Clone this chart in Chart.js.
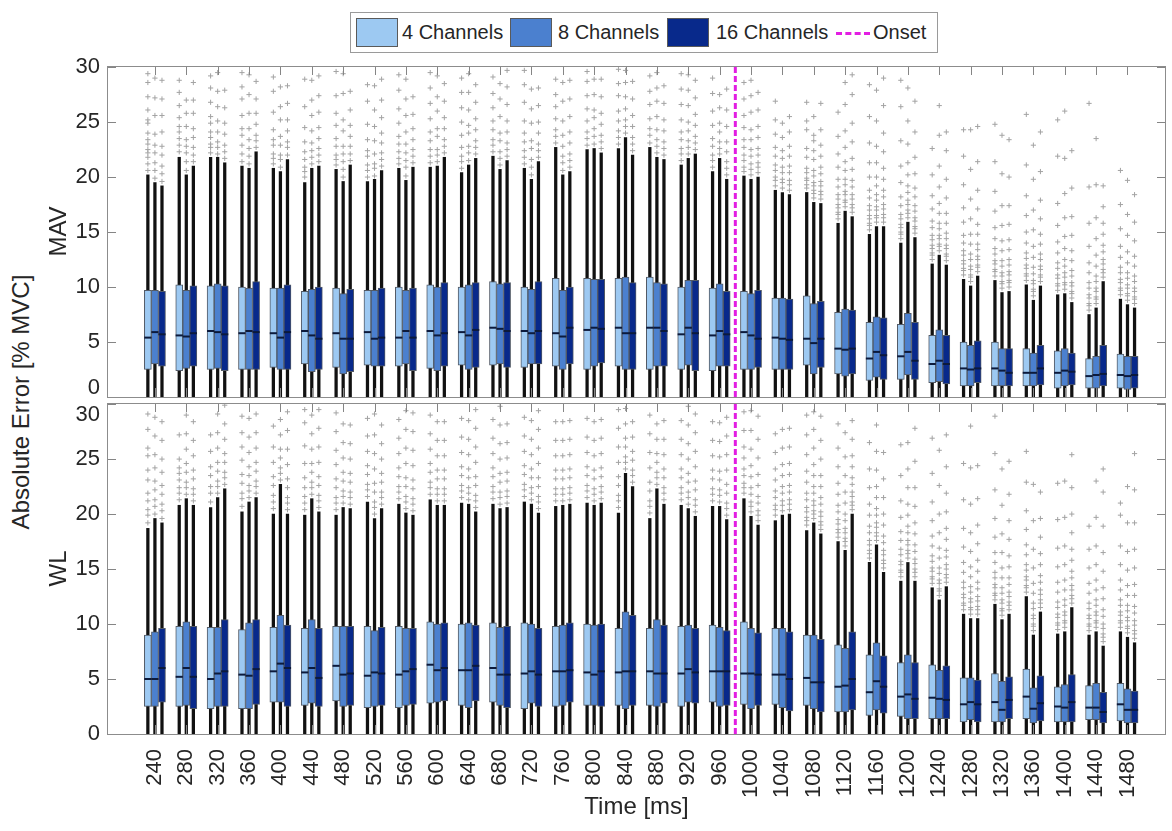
<!DOCTYPE html>
<html>
<head>
<meta charset="utf-8">
<script src="https://cdn.jsdelivr.net/npm/chart.js@4/dist/chart.umd.min.js"></script>
<style>
  body { margin: 0; background: #fff; width: 1172px; height: 831px; position: relative; overflow: hidden;
         font-family: 'Liberation Sans', Arial, Helvetica, sans-serif; color: #262626; }
  canvas { position: absolute; }
  #legend { position: absolute; left: 350px; top: 12px; width: 586px; height: 39px; border: 1px solid #9a9a9a;
            background: #fff; z-index: 5; }
  #legend .sw { position: absolute; top: 5px; width: 42px; height: 29px; border: 1px solid #5a5a5a; box-sizing: border-box; }
  #legend .tx { position: absolute; top: 8px; font-size: 20px; line-height: 23px; white-space: nowrap; }
  #legend .dash { position: absolute; top: 19px; width: 34px; height: 0; border-top: 3px dashed #e21ee2; }
  #ylab { position: absolute; left: 21px; top: 402px; transform: translate(-50%, -50%) rotate(-90deg);
          font-size: 24px; white-space: nowrap; }
</style>
</head>
<body>
<canvas id="mav" width="1131" height="375" style="left:41px; top:44px"></canvas>
<canvas id="wl" width="1131" height="450" style="left:41px; top:381px"></canvas>
<div id="ylab">Absolute Error [% MVC]</div>
<div id="legend"></div>
<script>
// Zeitpunkte (ms) und Onset
const times = [240, 280, 320, 360, 400, 440, 480, 520, 560, 600, 640, 680, 720, 760, 800, 840,
               880, 920, 960, 1000, 1040, 1080, 1120, 1160, 1200, 1240, 1280, 1320, 1360, 1400, 1440, 1480];
const onsetTime = 980;
const channels = ['4 Channels', '8 Channels', '16 Channels'];
const yTicks = [0, 5, 10, 15, 20, 25, 30];

// ---------- MAV ----------
const mav4Q1  = [2.5,2.4,2.5,2.5,2.7,3.0,2.7,2.9,2.8,2.6,2.9,2.9,2.7,2.8,2.5,2.8,2.5,2.5,2.4,2.5,2.5,2.9,2.1,1.5,1.6,1.3,1.0,1.0,1.0,0.8,0.8,0.8];
const mav4Med = [5.4,5.6,6.0,5.8,5.8,6.0,5.8,5.9,5.4,6.0,5.9,6.3,6.0,5.8,6.1,6.3,6.3,5.7,5.6,5.9,5.4,5.3,4.4,3.5,3.7,3.0,2.6,2.6,2.2,2.2,1.9,2.0];
const mav4Q3  = [9.7,10.2,10.1,10.0,9.9,9.6,9.9,9.7,10.0,10.2,10.0,10.5,10.0,10.8,10.8,10.8,10.9,10.0,9.9,9.6,9.0,9.2,7.7,6.8,6.6,5.6,5.0,5.0,4.4,4.2,3.5,3.9];
const mav4Hi  = [20.2,21.8,21.8,21.0,20.8,19.5,20.7,19.6,20.8,20.9,20.4,21.9,20.8,22.7,22.5,22.6,22.7,21.1,20.5,20.1,18.8,18.6,15.8,14.8,14.0,12.1,10.7,10.6,10.2,9.3,7.5,8.9];
const mav4Out = [
  [20.6,21.2,21.8,22.2,22.5,23.0,23.4,24.0,24.9,25.2,26.1,27.3,28.6,29.4],
  [22.3,22.9,23.5,24.1,24.6,25.4,26.5,27.7,28.8],
  [22.2,22.7,23.0,23.6,24.1,24.9,25.5,26.8,28.1,29.2],
  [21.4,22.1,22.9,23.8,24.4,25.6,27.1,28.2,29.5],
  [21.2,21.7,22.1,22.9,23.4,24.3,25.9,27.8,29.1],
  [20.0,20.5,20.9,21.6,22.3,23.2,24.5,26.4,28.9],
  [21.1,21.6,22.0,22.8,23.5,24.7,25.8,27.4,29.6],
  [20.0,20.6,21.1,21.9,22.4,23.4,24.8,26.9,28.4],
  [21.2,21.7,22.3,23.0,23.7,24.9,26.2,27.9,29.3],
  [21.3,21.9,22.5,23.3,24.1,25.3,26.7,28.1,29.5],
  [20.8,21.4,21.9,22.7,23.8,25.0,26.3,27.7,29.0],
  [22.3,22.9,23.4,24.3,25.1,26.3,27.6,29.1],
  [21.2,21.8,22.4,23.2,24.0,25.1,26.8,28.4,29.7],
  [23.1,23.7,24.3,25.3,26.4,27.5,28.9],
  [22.9,23.5,24.1,25.1,26.2,27.4,28.7,29.6],
  [23.0,23.6,24.2,25.1,26.0,27.4,28.5,29.8],
  [23.1,23.8,24.4,25.3,26.6,27.8,29.2],
  [21.5,22.1,22.6,23.4,24.1,25.2,26.6,28.0,29.4],
  [20.9,21.5,22.0,22.8,23.5,24.7,26.0,27.6,29.0],
  [20.5,20.9,21.5,22.0,22.7,23.4,24.5,25.6,27.1,28.6],
  [19.2,19.7,20.0,20.6,21.1,21.9,22.7,23.9,25.2,26.9],
  [19.0,19.3,19.7,19.9,20.4,20.8,21.8,22.6,24.3,25.1,26.8],
  [16.2,16.6,16.8,17.2,17.5,18.0,18.4,19.1,19.8,20.9,22.1,23.7,25.9],
  [15.2,15.6,15.8,16.2,16.5,17.0,17.4,18.1,18.8,20.0,21.3,23.1,25.5,28.4],
  [14.4,14.8,15.0,15.4,15.7,16.2,16.6,17.4,18.2,19.5,21.0,23.3,26.4,28.8],
  [12.5,12.9,13.1,13.5,13.8,14.3,14.7,15.4,16.0,17.1,18.3,20.2,22.6],
  [11.1,11.5,11.7,12.1,12.4,12.9,13.3,14.0,14.7,15.9,17.2,19.3,21.9,24.3],
  [11.0,11.4,11.6,12.1,12.4,13.0,13.5,14.4,15.4,16.9,18.7,21.4,24.8],
  [10.6,11.0,11.2,11.7,12.0,12.6,13.1,14.0,15.0,16.5,18.3,21.1,25.7],
  [9.7,10.1,10.3,10.8,11.1,11.7,12.2,13.1,14.1,15.6,17.6,21.9,25.2],
  [7.9,8.3,8.5,9.0,9.3,9.9,10.4,11.3,12.2,13.7,15.8,19.1,26.7],
  [9.3,9.7,9.9,10.4,10.7,11.3,11.8,12.7,13.7,15.3,17.5,20.6]
];

const mav8Q1  = [3.0,2.6,2.6,2.5,2.5,2.3,2.1,2.8,3.0,2.4,2.5,3.0,3.0,2.5,2.8,2.5,2.8,2.9,2.8,2.5,2.5,2.1,1.9,1.8,2.0,1.4,1.0,1.0,1.0,1.0,0.8,0.7];
const mav8Med = [5.9,5.5,5.9,6.0,5.4,5.6,5.3,5.3,6.0,5.6,5.6,6.2,5.8,5.5,6.3,5.8,6.3,6.3,6.0,5.6,5.3,4.9,4.3,4.1,4.1,3.3,2.5,2.4,2.2,2.4,2.0,1.9];
const mav8Q3  = [9.7,9.7,10.3,9.9,9.9,9.8,9.4,9.7,9.7,10.0,10.2,10.3,9.8,9.7,10.7,10.9,10.4,10.6,10.3,9.4,9.0,8.5,8.0,7.3,7.6,6.1,4.7,4.4,4.0,4.4,3.7,3.7];
const mav8Hi  = [19.5,20.2,21.8,20.8,20.5,20.8,19.6,19.8,19.7,21.0,21.1,20.7,19.8,20.2,22.6,23.6,21.8,21.7,21.7,19.8,18.6,17.7,16.9,15.5,15.9,12.9,10.1,9.5,8.8,9.4,8.1,8.4];
const mav8Out = [
  [19.9,20.6,21.3,22.2,22.9,23.9,25.6,27.2,29.0],
  [20.6,21.4,22.2,22.8,23.4,24.6,25.8,27.0],
  [22.1,22.7,23.2,24.1,25.1,26.4,27.8,29.5],
  [21.2,21.9,22.6,23.4,24.4,25.8,27.5,29.3],
  [20.9,21.6,22.0,22.9,23.7,25.2,26.4,28.2],
  [21.2,21.8,22.4,23.1,24.2,25.6,27.0,28.8],
  [20.0,20.7,21.4,22.1,22.8,24.2,25.2,27.6,29.4],
  [20.1,20.8,21.2,22.1,23.3,24.6,26.1,28.3],
  [20.1,20.9,21.5,22.2,23.0,24.1,25.6,27.1,28.9],
  [21.4,22.0,22.5,23.7,24.4,26.0,27.3,29.2],
  [21.5,22.2,22.8,24.0,24.7,26.1,27.7,29.4],
  [21.1,21.7,22.3,23.3,24.0,25.5,27.1,28.5],
  [20.2,20.9,21.6,22.6,23.3,24.9,26.2,28.0],
  [20.6,21.3,21.9,22.8,23.8,25.1,26.9,28.6],
  [23.0,23.7,24.4,25.4,26.1,27.5,28.9],
  [24.0,24.6,25.2,26.2,27.3,28.6,29.7],
  [22.2,22.8,23.4,24.3,25.5,26.9,28.1,29.5],
  [22.1,22.7,23.3,24.2,25.0,26.5,27.9,29.3],
  [22.1,22.6,23.2,24.1,24.9,26.3,27.5],
  [20.2,20.7,21.2,21.9,22.5,23.4,24.3,25.9,27.4,28.8],
  [19.0,19.5,19.8,20.4,20.9,21.7,22.4,23.6,24.9],
  [18.1,18.5,18.8,19.2,19.5,20.1,20.6,21.6,22.4,23.3,23.8,25.5],
  [17.3,17.7,17.9,18.4,18.7,19.3,19.8,20.6,21.4,22.7,24.2,26.6,28.6],
  [15.9,16.3,16.5,17.0,17.3,17.9,18.4,19.2,20.0,21.3,22.8,25.1,27.9],
  [16.3,16.7,17.0,17.5,17.9,18.6,19.2,20.2,21.3,23.0,25.1,28.1],
  [13.3,13.7,13.9,14.4,14.7,15.3,15.8,16.7,17.6,19.1,21.0,23.8,26.5],
  [10.5,10.9,11.1,11.6,11.9,12.5,13.0,13.9,14.8,16.2,18.0,20.7,24.3],
  [9.9,10.3,10.5,11.0,11.3,11.9,12.4,13.3,14.2,15.6,17.4,20.3,23.8],
  [9.2,9.6,9.8,10.3,10.6,11.2,11.8,12.7,13.7,15.2,17.0,19.8,22.9],
  [9.8,10.2,10.4,10.9,11.3,11.9,12.5,13.5,14.6,16.3,18.5,21.7,26.0],
  [8.5,8.9,9.1,9.6,9.9,10.5,11.0,11.9,12.9,14.4,16.3,19.3,23.5],
  [8.8,9.2,9.4,9.9,10.2,10.8,11.3,12.2,13.2,14.7,16.6,19.7]
];

const mav16Q1  = [2.8,2.8,2.4,2.5,2.5,2.5,2.3,2.8,2.4,2.8,2.7,2.7,3.0,3.0,3.1,2.5,2.8,2.4,2.8,2.7,2.5,2.7,2.1,1.6,1.6,1.2,1.3,1.0,1.1,1.1,1.0,0.8];
const mav16Med = [5.7,5.8,5.7,5.9,5.9,5.3,5.3,5.4,5.4,5.8,6.1,6.0,6.0,6.3,6.2,5.8,6.0,5.8,5.7,5.3,5.2,5.3,4.4,3.8,3.3,3.0,2.6,2.2,2.6,2.3,2.1,2.0];
const mav16Q3  = [9.6,10.1,10.1,10.5,10.2,10.0,9.8,9.9,9.9,10.4,10.4,10.4,10.5,10.0,10.7,10.4,10.3,10.6,9.6,9.7,8.9,8.7,7.9,7.2,6.8,5.6,5.1,4.4,4.7,4.0,4.7,3.7];
const mav16Hi  = [19.2,21.0,21.3,22.3,21.6,21.0,21.1,20.6,20.9,21.8,21.7,21.5,21.4,20.5,22.2,22.0,21.6,22.1,19.8,20.0,18.4,17.6,16.4,15.5,14.5,12.0,11.0,9.6,10.1,8.6,10.5,8.1];
const mav16Out = [
  [19.6,20.3,21.0,22.0,22.8,24.1,25.6,27.1,28.8],
  [21.4,22.0,22.7,23.6,24.4,25.8,27.0,28.6],
  [21.7,22.3,22.9,23.9,24.9,26.3,27.9],
  [22.7,23.3,23.8,24.8,25.8,27.1,28.7],
  [22.0,22.7,23.2,24.2,25.2,26.7,28.3],
  [21.4,22.0,22.6,23.5,24.5,25.9,27.4,29.2],
  [21.5,22.1,22.8,23.7,24.7,26.1,27.8],
  [21.0,21.6,22.2,23.1,24.0,25.4,27.0,28.9],
  [21.3,21.9,22.5,23.4,24.4,25.7,27.3],
  [22.2,22.8,23.4,24.4,25.4,26.9,28.5],
  [22.1,22.7,23.3,24.3,25.3,26.8,28.4],
  [21.9,22.5,23.1,24.1,25.1,26.6,28.2,29.7],
  [21.8,22.4,23.0,24.0,25.0,26.5,28.1],
  [20.9,21.5,22.1,23.1,24.1,25.5,27.1,28.8],
  [22.6,23.2,23.8,24.8,25.8,27.3,28.9],
  [22.4,23.0,23.6,24.6,25.6,27.1,28.7],
  [22.0,22.6,23.2,24.2,25.2,26.7,28.3],
  [22.5,23.1,23.7,24.7,25.7,27.2,28.8],
  [20.2,20.8,21.4,22.3,23.2,24.6,26.1,28.0],
  [20.4,20.9,21.3,22.0,22.6,23.6,24.6,26.1,27.7],
  [18.8,19.3,19.7,20.4,21.0,21.9,22.8,24.1,25.5],
  [18.0,18.4,18.7,19.2,19.6,20.3,20.9,21.9,22.9,24.3,26.7],
  [16.8,17.2,17.5,18.0,18.4,19.1,19.7,20.7,21.7,23.2,24.9,27.5,29.3],
  [15.9,16.3,16.6,17.1,17.5,18.2,18.8,19.8,20.8,22.3,24.0,26.5,29.0],
  [14.9,15.3,15.5,16.0,16.3,16.9,17.4,18.2,19.0,20.3,21.8,24.1,26.9],
  [12.4,12.8,13.0,13.5,13.8,14.4,14.9,15.8,16.7,18.1,19.8,22.4,24.1],
  [11.4,11.8,12.0,12.5,12.8,13.4,13.9,14.8,15.7,17.1,18.8,21.4,24.6],
  [10.0,10.4,10.6,11.1,11.4,12.0,12.5,13.4,14.3,15.7,17.4,20.0,23.4],
  [10.5,10.9,11.1,11.6,11.9,12.5,13.0,13.9,14.8,16.2,17.9,20.5,24.1],
  [9.0,9.4,9.6,10.1,10.4,11.0,11.5,12.4,13.3,14.7,16.4,19.0,22.4],
  [10.9,11.3,11.6,12.1,12.5,13.2,13.8,14.8,15.8,17.3,19.2],
  [8.5,8.9,9.1,9.6,9.9,10.5,11.0,11.9,12.8,14.2,15.9,18.4]
];

// ---------- WL ----------
const wl4Q1  = [2.5,2.5,2.3,2.3,2.9,2.6,3.0,2.4,2.4,2.8,2.6,2.9,2.3,2.5,2.6,2.6,2.6,2.5,2.9,2.7,2.7,2.6,2.0,1.7,1.6,1.4,1.1,1.1,1.4,1.1,1.3,1.2];
const wl4Med = [5.0,5.2,5.0,5.4,5.7,5.6,6.2,5.3,5.4,6.3,5.8,6.0,5.5,5.7,5.6,5.6,5.7,5.5,5.7,5.5,5.4,5.1,4.3,3.8,3.4,3.3,2.7,2.9,3.4,2.5,2.4,2.7];
const wl4Q3  = [9.0,9.8,9.7,9.5,9.7,9.6,9.8,9.8,9.8,10.2,10.0,10.1,10.1,9.8,10.0,9.6,9.6,9.8,9.9,10.2,9.6,9.0,8.1,7.2,6.5,6.3,5.1,5.5,5.9,4.3,4.4,4.6];
const wl4Hi  = [18.7,20.8,20.6,20.2,20.0,19.9,19.9,21.1,20.9,21.3,21.0,20.9,21.1,20.7,21.0,20.1,19.6,20.8,20.7,21.4,19.4,18.5,17.5,15.6,13.9,13.3,10.9,11.8,12.5,9.1,9.0,9.3];
const wl4Out = [
  [19.2,19.9,20.4,21.2,21.9,23.1,24.0,25.3,26.0,27.7,29.1],
  [21.3,21.9,22.4,23.1,23.7,24.2,25.0,27.2],
  [21.1,21.9,22.5,23.5,24.3,25.7,27.2],
  [20.7,21.4,21.9,22.8,23.6,24.9,26.1,27.4,28.9],
  [20.5,21.1,21.7,22.6,23.4,24.7,26.1,28.0],
  [20.4,21.0,21.6,22.4,23.3,24.6,26.2,28.3,29.5],
  [20.4,21.0,21.5,22.4,23.2,24.5,25.8,27.5,29.2],
  [21.6,22.2,22.7,23.6,24.4,25.7,27.1,28.7],
  [21.4,22.0,22.5,23.4,24.2,25.5,26.9,28.6],
  [21.8,22.4,22.9,23.8,24.6,25.9,27.3,29.0],
  [21.5,22.1,22.6,23.5,24.3,25.6,27.0,28.7],
  [21.4,22.0,22.5,23.4,24.2,25.5,26.9,28.6],
  [21.6,22.2,22.7,23.6,24.4,25.7,27.1,28.8],
  [21.2,21.8,22.3,23.2,24.0,25.3,26.7,28.4],
  [21.5,22.1,22.6,23.5,24.3,25.6,27.0,28.7],
  [20.6,21.2,21.7,22.6,23.4,24.7,26.1,27.8,29.5],
  [20.1,20.7,21.2,22.1,22.9,24.2,25.6,27.3,29.0],
  [21.3,21.9,22.4,23.3,24.1,25.4,26.8,28.5],
  [21.2,21.8,22.3,23.2,24.0,25.3,26.7,28.4],
  [21.9,22.4,22.8,23.5,24.1,25.1,26.1,27.6,29.3],
  [19.9,20.4,20.8,21.5,22.1,23.1,24.1,25.6,27.3],
  [19.0,19.4,19.7,20.2,20.6,21.3,21.9,22.9,23.9,25.4,27.2,29.0],
  [17.9,18.3,18.6,19.1,19.5,20.2,20.8,21.8,22.8,24.3,26.0,28.2],
  [16.0,16.4,16.7,17.2,17.6,18.3,18.9,19.9,20.9,22.4,24.1,26.5],
  [14.3,14.7,14.9,15.4,15.7,16.3,16.8,17.6,18.4,19.7,21.2,23.5,26.3],
  [13.7,14.1,14.3,14.8,15.1,15.7,16.2,17.1,18.0,19.4,21.1,23.7,26.9],
  [11.3,11.7,11.9,12.4,12.7,13.3,13.8,14.7,15.6,17.0,18.7,21.3,24.6],
  [12.2,12.6,12.8,13.3,13.6,14.2,14.7,15.6,16.5,17.9,19.6,22.2,25.5,28.9],
  [12.9,13.3,13.5,14.0,14.3,14.9,15.4,16.3,17.2,18.6,20.3,22.9,25.7],
  [9.5,9.9,10.1,10.6,10.9,11.5,12.0,12.9,13.8,15.2,16.9,19.5,22.8],
  [9.4,9.8,10.0,10.5,10.8,11.4,11.9,12.8,13.7,15.1,16.8,18.9],
  [9.7,10.1,10.3,10.8,11.1,11.7,12.2,13.1,14.0,15.4,17.1,19.9,21.0]
];

const wl8Q1  = [2.5,2.6,2.5,2.3,2.9,2.8,2.5,2.5,2.6,2.9,2.4,2.6,2.8,2.6,2.6,2.3,2.5,2.9,2.5,2.3,2.4,2.3,2.0,2.2,1.4,1.4,1.3,1.1,1.0,1.1,1.3,1.0];
const wl8Med = [5.0,6.0,5.5,5.3,6.4,6.0,5.4,5.6,5.7,5.8,5.8,5.4,5.7,5.7,5.4,5.7,5.5,5.9,5.7,5.5,5.4,4.7,4.4,4.8,3.6,3.2,2.9,2.2,2.3,2.4,2.4,2.2];
const wl8Q3  = [9.3,10.2,9.7,10.1,10.8,10.4,9.8,9.4,9.6,10.0,10.1,9.7,10.0,9.9,9.9,11.1,10.4,9.9,9.7,9.6,9.6,9.0,7.8,8.3,7.2,5.8,5.1,4.8,4.2,4.5,4.6,4.1];
const wl8Hi  = [19.6,21.4,21.5,21.1,22.7,21.4,20.6,19.6,20.1,20.8,20.9,20.5,20.9,20.8,20.8,23.7,22.3,20.5,20.7,19.8,19.9,19.2,16.7,17.2,15.6,12.2,10.5,10.4,9.0,9.3,9.3,8.8];
const wl8Out = [
  [20.0,20.7,21.3,22.2,23.0,24.2,25.4,27.1,28.8],
  [21.8,22.4,22.9,23.8,24.6,25.9,27.3,29.0],
  [21.9,22.5,23.0,23.9,24.7,26.0,27.4,29.1],
  [21.5,22.1,22.6,23.5,24.3,25.6,27.0,28.7],
  [23.1,23.7,24.2,25.1,25.9,27.2,28.6],
  [21.8,22.4,22.9,23.8,24.6,25.9,27.3,29.0],
  [21.0,21.6,22.1,23.0,23.8,25.1,26.5,28.2],
  [20.0,20.6,21.1,22.0,22.8,24.1,25.5,27.2,29.1],
  [20.5,21.1,21.6,22.5,23.3,24.6,26.0,27.7,29.4],
  [21.2,21.8,22.3,23.2,24.0,25.3,26.7,28.4],
  [21.3,21.9,22.4,23.3,24.1,25.4,26.8,28.5],
  [20.9,21.5,22.0,22.9,23.7,25.0,26.4,28.1,29.8],
  [21.3,21.9,22.4,23.3,24.1,25.4,26.8,28.5],
  [21.2,21.8,22.3,23.2,24.0,25.3,26.7,28.4],
  [21.2,21.8,22.3,23.2,24.0,25.3,26.7,28.4],
  [24.1,24.7,25.2,26.1,26.9,28.2,29.6],
  [22.7,23.3,23.8,24.7,25.5,26.8,28.2],
  [20.9,21.5,22.0,22.9,23.7,25.0,26.4,28.1,29.8],
  [21.1,21.7,22.2,23.1,23.9,25.2,26.6,28.3],
  [20.2,20.7,21.1,21.8,22.4,23.4,24.4,25.9,27.6,29.4],
  [20.3,20.8,21.2,21.9,22.5,23.5,24.5,26.0,27.7],
  [19.6,20.0,20.3,20.8,21.2,21.9,22.5,23.5,24.5,26.0,27.7,29.3],
  [17.1,17.5,17.8,18.3,18.7,19.4,20.0,21.0,22.0,23.5,25.2,27.4],
  [17.6,18.0,18.3,18.8,19.2,19.9,20.5,21.5,22.5,24.0,25.7,28.1],
  [16.0,16.4,16.7,17.2,17.6,18.3,18.9,19.9,20.9,22.4,24.1,26.5],
  [12.6,13.0,13.2,13.7,14.0,14.6,15.1,16.0,16.9,18.3,20.0,22.6,25.8],
  [10.9,11.3,11.5,12.0,12.3,12.9,13.4,14.3,15.2,16.6,18.3,20.9,24.2,28.0],
  [10.8,11.2,11.4,11.9,12.2,12.8,13.3,14.2,15.1,16.5,18.2,20.8,24.1],
  [9.4,9.8,10.0,10.5,10.8,11.4,11.9,12.8,13.7,15.1,16.8,19.4,22.7],
  [9.7,10.1,10.3,10.8,11.1,11.7,12.2,13.1,14.0,15.4,17.1,19.7,23.0],
  [9.7,10.1,10.3,10.8,11.1,11.7,12.2,13.1,14.0,15.4,17.1,19.7,23.0],
  [9.2,9.6,9.8,10.3,10.6,11.2,11.7,12.6,13.5,14.9,16.6,19.2,22.5]
];

const wl16Q1  = [2.9,2.3,2.5,2.7,2.5,2.5,2.6,2.6,2.7,3.0,3.0,2.4,2.5,2.9,2.5,2.6,2.8,2.8,2.6,2.6,2.1,2.0,2.2,1.9,1.4,1.4,1.1,1.4,1.2,1.1,1.0,1.0];
const wl16Med = [6.0,5.2,5.7,5.9,6.0,5.1,5.5,5.5,5.9,6.0,6.2,5.4,5.4,5.8,5.7,5.7,5.5,5.6,5.7,5.4,5.0,4.7,5.0,4.3,3.2,3.1,2.7,3.1,2.8,2.9,2.0,2.2];
const wl16Q3  = [9.6,9.8,10.4,10.4,9.9,9.6,9.8,9.7,9.6,10.1,9.9,9.8,9.6,10.1,10.0,10.8,9.9,9.6,9.4,9.2,9.3,8.6,9.3,7.1,6.5,6.2,4.9,5.2,5.3,5.4,3.8,3.9];
const wl16Hi  = [19.2,20.8,22.3,21.5,20.0,20.2,20.5,20.5,19.9,20.8,20.2,20.6,20.1,20.9,21.0,22.5,20.9,19.8,19.5,19.0,20.0,18.2,20.0,14.7,13.9,13.4,10.5,10.9,11.1,11.5,8.0,8.3];
const wl16Out = [
  [19.6,20.3,20.9,21.8,22.6,23.8,25.0,26.7,28.4],
  [21.2,21.8,22.3,23.2,24.0,25.3,26.7,28.4],
  [22.7,23.3,23.8,24.7,25.5,26.8,28.2,29.9],
  [21.9,22.5,23.0,23.9,24.7,26.0,27.4,29.1],
  [20.4,21.0,21.5,22.4,23.2,24.5,25.9,27.6,29.3],
  [20.6,21.2,21.7,22.6,23.4,24.7,26.1,27.8,29.5],
  [20.9,21.5,22.0,22.9,23.7,25.0,26.4,28.1],
  [20.9,21.5,22.0,22.9,23.7,25.0,26.4,28.1],
  [20.3,20.9,21.4,22.3,23.1,24.4,25.8,27.5,29.2],
  [21.2,21.8,22.3,23.2,24.0,25.3,26.7,28.4],
  [20.6,21.2,21.7,22.6,23.4,24.7,26.1,27.8,29.5],
  [21.0,21.6,22.1,23.0,23.8,25.1,26.5,28.2],
  [20.5,21.1,21.6,22.5,23.3,24.6,26.0,27.7,29.4],
  [21.3,21.9,22.4,23.3,24.1,25.4,26.8,28.5],
  [21.4,22.0,22.5,23.4,24.2,25.5,26.9,28.6],
  [22.9,23.5,24.0,24.9,25.7,27.0,28.4],
  [21.3,21.9,22.4,23.3,24.1,25.4,26.8,28.5],
  [20.2,20.8,21.3,22.2,23.0,24.3,25.7,27.4,29.1],
  [19.9,20.5,21.0,21.9,22.7,24.0,25.4,27.1,28.8],
  [19.4,19.9,20.3,21.0,21.6,22.6,23.6,25.1,26.8,28.9],
  [20.4,20.9,21.3,22.0,22.6,23.6,24.6,26.1,27.8],
  [18.6,19.0,19.3,19.8,20.2,20.9,21.5,22.5,23.5,25.0,26.7,28.9],
  [20.4,20.8,21.1,21.6,22.0,22.7,23.3,24.3,25.3,26.8,28.5],
  [15.1,15.5,15.8,16.3,16.7,17.4,18.0,19.0,20.0,21.5,23.2,25.6],
  [14.3,14.7,15.0,15.5,15.9,16.6,17.2,18.2,19.2,20.7,22.4,24.8,27.8],
  [13.8,14.2,14.5,15.0,15.4,16.1,16.7,17.7,18.7,20.2,21.9,24.3,27.2],
  [10.9,11.3,11.6,12.1,12.5,13.2,13.8,14.8,15.8,17.3,19.0,21.4,24.4],
  [11.3,11.7,12.0,12.5,12.9,13.6,14.2,15.2,16.2,17.7,19.4,21.8,24.8],
  [11.5,11.9,12.2,12.7,13.1,13.8,14.4,15.4,16.4,17.9,19.6,22.0],
  [11.9,12.3,12.6,13.1,13.5,14.2,14.8,15.8,16.8,18.3,20.0,22.4,25.4],
  [8.4,8.8,9.1,9.6,10.0,10.7,11.3,12.3,13.3,14.8,16.5,18.9,22.0,24.1],
  [8.7,9.1,9.4,9.9,10.3,11.0,11.6,12.6,13.6,15.1,16.8,19.2,22.2,25.5]
];

// ---------------------------------------------------------------
const fillColors = ['#9dc9f2', '#4b80cf', '#08298b'];
const boxShift = [-9, 0, 9];
const fontFamily = "'Liberation Sans', Arial, Helvetica, sans-serif";
const textColor = '#262626';

function buildDatasets(series) {
    let ds = [];
    series.forEach((s, k) => {
        let xs = times.map(t => t + boxShift[k]);
        // whisker (0 .. upper whisker)
        ds.push({ type: 'bar', data: xs.map((x, i) => ({x: x, y: [0, s.hi[i]]})),
                  backgroundColor: '#111111', barThickness: 2.6, grouped: false, order: 4 });
        // box q1..q3
        ds.push({ type: 'bar', data: xs.map((x, i) => ({x: x, y: [s.q1[i], s.q3[i]]})),
                  backgroundColor: fillColors[k], borderColor: '#525a66', borderWidth: 1,
                  borderSkipped: false, barThickness: 7, grouped: false, order: 3 });
        // median
        ds.push({ type: 'line', showLine: false, data: xs.map((x, i) => ({x: x, y: s.med[i]})),
                  pointStyle: 'line', pointRadius: 3.6, pointBorderWidth: 2,
                  pointBorderColor: '#0c1a3c', order: 2 });
        // outliers
        let pts = [];
        s.out.forEach((arr, i) => arr.forEach(v => pts.push({x: xs[i], y: v})));
        ds.push({ type: 'line', showLine: false, data: pts, pointStyle: 'cross', pointRadius: 2.6,
                  pointBorderWidth: 1, pointBorderColor: '#a3a3a3', order: 5 });
    });
    ds.push({ type: 'line', data: [{x: onsetTime, y: 0}, {x: onsetTime, y: 30.1}],
              borderColor: '#e21ee2', borderWidth: 3, borderDash: [6, 3], pointRadius: 0, order: 0 });
    return ds;
}

// Rahmen + Ticks nach innen (Matlab-Stil)
const framePlugin = {
    id: 'frame',
    beforeDraw(chart, args, opts) {
        const sy = chart.scales.y;
        const items = sy.getLabelItems();
        items.forEach((it, i) => {
            const v = sy.ticks[i] ? sy.ticks[i].value : null;
            if (opts.shift && opts.shift[v]) it.options.translation[1] += opts.shift[v];
        });
    },
    afterDatasetsDraw(chart) {
        const {ctx, chartArea: a} = chart;
        const sx = chart.scales.x, sy = chart.scales.y;
        ctx.save();
        ctx.strokeStyle = '#858585';
        ctx.lineWidth = 1;
        ctx.beginPath();
        yTicks.forEach(v => {
            const p = Math.round(sy.getPixelForValue(v)) + 0.5;
            ctx.moveTo(a.left, p); ctx.lineTo(a.left + 9, p);
            ctx.moveTo(a.right, p); ctx.lineTo(a.right - 9, p);
        });
        times.forEach(t => {
            const p = Math.round(sx.getPixelForValue(t)) + 0.5;
            ctx.moveTo(p, a.top); ctx.lineTo(p, a.top + 9);
            ctx.moveTo(p, a.bottom); ctx.lineTo(p, a.bottom - 9);
        });
        ctx.stroke();
        ctx.strokeStyle = '#8c8c8c';
        ctx.strokeRect(Math.round(a.left) + 0.5, Math.round(a.top) + 0.5,
                       Math.round(a.right - a.left) - 1, Math.round(a.bottom - a.top));
        ctx.restore();
    }
};

function makeChart(canvasId, title, series, showX, shift) {
    const xScale = {
        type: 'linear', min: 200, max: 1508, display: showX,
        afterBuildTicks: s => { s.ticks = times.map(v => ({value: v})); },
        grid: {display: false, drawTicks: false},
        border: {display: false},
        ticks: { autoSkip: false, minRotation: 90, maxRotation: 90, padding: 15,
                 color: textColor, font: {family: fontFamily, size: 22},
                 callback: v => String(v) },
        title: { display: true, text: 'Time [ms]', color: textColor,
                 font: {family: fontFamily, size: 24}, padding: {top: 4, bottom: 4} }
    };
    if (showX) xScale.afterFit = s => { s.height = 92; };
    return new Chart(document.getElementById(canvasId), {
        type: 'bar',
        data: { datasets: buildDatasets(series) },
        options: {
            responsive: false,
            animation: false,
            devicePixelRatio: 1,
            layout: { padding: {left: 0, right: 5, top: 22, bottom: showX ? 5 : 22} },
            plugins: { legend: {display: false}, tooltip: {enabled: false}, frame: {shift: shift} },
            scales: {
                x: xScale,
                y: {
                    min: 0, max: 30.1,
                    afterBuildTicks: s => { s.ticks = yTicks.map(v => ({value: v})); },
                    afterFit: s => { s.width = 66; },
                    grid: {display: false, drawTicks: false},
                    border: {display: false},
                    ticks: { padding: 7, color: textColor, font: {family: fontFamily, size: 22} },
                    title: { display: true, text: title, color: textColor,
                             font: {family: fontFamily, size: 24}, padding: {top: 4, bottom: 4} }
                }
            }
        },
        plugins: [framePlugin]
    });
}

makeChart('mav', 'MAV', [
    {q1: mav4Q1, med: mav4Med, q3: mav4Q3, hi: mav4Hi, out: mav4Out},
    {q1: mav8Q1, med: mav8Med, q3: mav8Q3, hi: mav8Hi, out: mav8Out},
    {q1: mav16Q1, med: mav16Med, q3: mav16Q3, hi: mav16Hi, out: mav16Out}
], false, {0: -9});

makeChart('wl', 'WL', [
    {q1: wl4Q1, med: wl4Med, q3: wl4Q3, hi: wl4Hi, out: wl4Out},
    {q1: wl8Q1, med: wl8Med, q3: wl8Q3, hi: wl8Hi, out: wl8Out},
    {q1: wl16Q1, med: wl16Med, q3: wl16Q3, hi: wl16Hi, out: wl16Out}
], true, {30: 11});

// Legende
const legend = document.getElementById('legend');
const swLeft = [5, 159, 316];
const txLeft = [51, 207, 365];
channels.forEach((name, k) => {
    const sw = document.createElement('div');
    sw.className = 'sw';
    sw.style.left = swLeft[k] + 'px';
    sw.style.background = fillColors[k];
    legend.appendChild(sw);
    const tx = document.createElement('div');
    tx.className = 'tx';
    tx.style.left = txLeft[k] + 'px';
    tx.textContent = name;
    legend.appendChild(tx);
});
const dash = document.createElement('div');
dash.className = 'dash';
dash.style.left = '485px';
legend.appendChild(dash);
const onsetTx = document.createElement('div');
onsetTx.className = 'tx';
onsetTx.style.left = '522px';
onsetTx.textContent = 'Onset';
legend.appendChild(onsetTx);
</script>
</body>
</html>
